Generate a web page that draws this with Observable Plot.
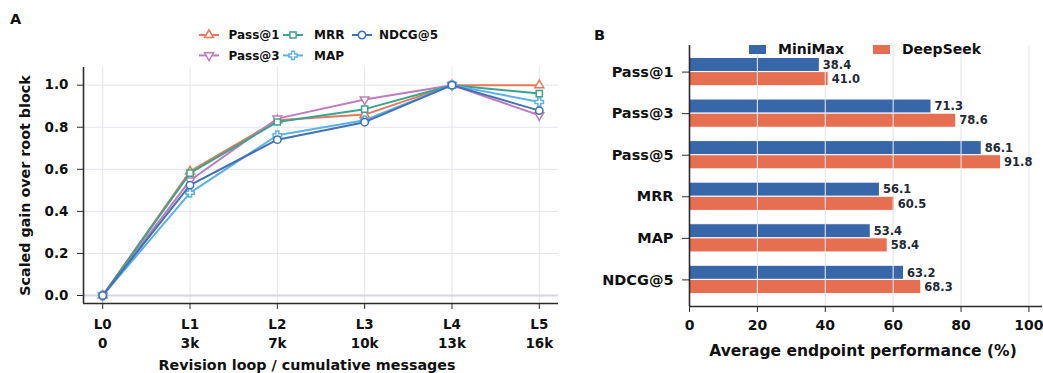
<!DOCTYPE html>
<html><head><meta charset="utf-8">
<script src="https://cdn.jsdelivr.net/npm/d3@7"></script>
<script src="https://cdn.jsdelivr.net/npm/@observablehq/plot@0.6"></script>
<style>
body{margin:0;background:#fff;}
#wrap{position:relative;width:1043px;height:373px;font-family:"DejaVu Sans",sans-serif;font-weight:bold;overflow:hidden;}
#wrap svg{position:absolute;top:0;}
</style></head><body><div id="wrap"></div>
<script>
// ---- Panel A data ----
const loops = ["L0","L1","L2","L3","L4","L5"];
const messages = ["0","3k","7k","10k","13k","16k"];
const seriesNames = ["Pass@1","Pass@3","MRR","MAP","NDCG@5"];
const pass1 = [0, 0.59, 0.833, 0.86, 1.0, 1.0];
const pass3 = [0, 0.547, 0.841, 0.932, 1.0, 0.857];
const mrr   = [0, 0.582, 0.825, 0.886, 1.0, 0.96];
const mapv  = [0, 0.488, 0.762, 0.833, 1.0, 0.92];
const ndcg5 = [0, 0.525, 0.741, 0.824, 1.0, 0.879];
const seriesColors = ["#E9785A","#C07BBF","#3BA38F","#5AB2E6","#4470B4"];
const yTicksA = [0, 0.2, 0.4, 0.6, 0.8, 1.0];

// ---- Panel B data ----
const metrics = ["Pass@1","Pass@3","Pass@5","MRR","MAP","NDCG@5"];
const minimax  = [38.4, 71.3, 86.1, 56.1, 53.4, 63.2];
const deepseek = [41.0, 78.6, 91.8, 60.5, 58.4, 68.3];
const models = ["MiniMax","DeepSeek"];
const modelColors = ["#3767A8","#E76F51"];
const xTicksB = [0, 20, 40, 60, 80, 100];

// ---- symbols ----
const s3 = Math.sqrt(3);
const triDown = {draw(ctx, size){ const y = -Math.sqrt(size/(s3*3)); ctx.moveTo(0,-2*y); ctx.lineTo(-s3*y, y); ctx.lineTo(s3*y, y); ctx.closePath(); }};
const plusFilled = {draw(ctx, size){ const h = Math.sqrt(size)*0.62, w = h*0.36;
  ctx.moveTo(-w,-h); ctx.lineTo(w,-h); ctx.lineTo(w,-w); ctx.lineTo(h,-w); ctx.lineTo(h,w); ctx.lineTo(w,w);
  ctx.lineTo(w,h); ctx.lineTo(-w,h); ctx.lineTo(-w,w); ctx.lineTo(-h,w); ctx.lineTo(-h,-w); ctx.lineTo(-w,-w); ctx.closePath(); }};
const seriesSymbols = [d3.symbolTriangle, triDown, d3.symbolSquare, plusFilled, d3.symbolCircle];
const seriesR = [3.3, 3.3, 3.5, 3.8, 3.7];
const seriesValues = [pass1, pass3, mrr, mapv, ndcg5];

const font = "DejaVu Sans";
const ink = "#111";
const spine = "#2b2b2b";
const gridC = "#e4e4ee";

// ---- Panel A ----
const seriesMarks = [];
seriesNames.forEach((name, s) => {
  const rows = seriesValues[s].map((v, i) => ({i, v, name}));
  seriesMarks.push(Plot.line(rows, {x: "i", y: "v", stroke: seriesColors[s], strokeWidth: 2}));
  seriesMarks.push(Plot.dot(rows, {x: "i", y: "v", stroke: seriesColors[s], fill: "white", strokeWidth: 1.5, r: seriesR[s], symbol: seriesSymbols[s]}));
});
const xdomA = [-0.22, 5.22], ydomA = [-0.038, 1.084];
const plotA = Plot.plot({
  width: 580, height: 373,
  marginLeft: 83, marginRight: 22, marginTop: 67, marginBottom: 70,
  style: {fontFamily: font, fontWeight: "bold", fontSize: "13.5px", color: ink, background: "transparent", overflow: "visible"},
  x: {domain: xdomA},
  y: {domain: ydomA},
  marks: [
    Plot.ruleY(yTicksA, {stroke: gridC, strokeWidth: 1}),
    Plot.ruleX(d3.range(loops.length), {stroke: gridC, strokeWidth: 1}),
    Plot.ruleY([0], {stroke: "#d6d6de", strokeWidth: 2.2}),
    Plot.ruleX([xdomA[0]], {stroke: spine, strokeWidth: 1.6}),
    Plot.ruleY([ydomA[0]], {stroke: spine, strokeWidth: 1.6}),
    Plot.axisY({ticks: yTicksA, tickFormat: d3.format(".1f"), tickSize: 6, tickPadding: 9, label: null, fontSize: 13.5, fontWeight: "bold", stroke: spine}),
    Plot.axisX({ticks: d3.range(loops.length), tickFormat: i => loops[i] + "\n" + messages[i], tickSize: 6, tickPadding: 7, lineHeight: 1.35, label: null, fontSize: 13.5, fontWeight: "bold", stroke: spine}),
    Plot.text(["Revision loop / cumulative messages"], {frameAnchor: "bottom", dx: -14, dy: 62, lineAnchor: "middle", textAnchor: "middle", fontSize: 14.3, fontWeight: "bold", fill: ink}),
    Plot.text(["Scaled gain over root block"], {frameAnchor: "left", dx: -58, rotate: -90, textAnchor: "middle", lineAnchor: "middle", fontSize: 14.3, fontWeight: "bold", fill: ink}),
    ...seriesMarks
  ]
});
plotA.style.left = "0px";

// ---- Panel B ----
const barRows = [];
metrics.forEach((m, i) => {
  barRows.push({i, model: models[0], value: minimax[i], lo: -0.34, hi: 0});
  barRows.push({i, model: models[1], value: deepseek[i], lo: 0, hi: 0.34});
});
const ydomB = [-0.64, 5.64];
const plotB = Plot.plot({
  width: 463, height: 373,
  marginLeft: 109, marginRight: 1, marginTop: 45, marginBottom: 67,
  style: {fontFamily: font, fontWeight: "bold", fontSize: "13.5px", color: ink, background: "transparent", overflow: "visible"},
  x: {domain: [0, 104]},
  y: {domain: ydomB, reverse: true},
  color: {domain: models, range: modelColors},
  marks: [
    Plot.rect(barRows, {x1: () => 0, x2: "value", y1: d => d.i + d.lo, y2: d => d.i + d.hi, fill: "model", stroke: "white", strokeWidth: 1}),
    Plot.ruleX(xTicksB.slice(1), {stroke: gridC, strokeWidth: 1.1}),
    Plot.text(barRows, {x: "value", y: d => d.i + (d.lo + d.hi) / 2, text: d => d3.format(".1f")(d.value), dx: 3, textAnchor: "start", fontSize: 11.5, fontWeight: "bold", fill: "#1f2937"}),
    Plot.ruleX([0], {stroke: spine, strokeWidth: 1.6}),
    Plot.ruleY([ydomB[1]], {stroke: spine, strokeWidth: 1.6}),
    Plot.axisY({ticks: d3.range(metrics.length), tickFormat: i => metrics[i], tickSize: 7, tickPadding: 9, label: null, fontSize: 14.5, fontWeight: "bold", stroke: spine}),
    Plot.axisX({ticks: xTicksB, tickFormat: d => String(d), tickSize: 6, tickPadding: 8, label: null, fontSize: 14, fontWeight: "bold", stroke: spine}),
    Plot.text(["Average endpoint performance (%)"], {frameAnchor: "bottom", dx: -3, dy: 45, lineAnchor: "middle", textAnchor: "middle", fontSize: 15.5, fontWeight: "bold", fill: ink})
  ]
});
plotB.style.left = "580px";

const wrap = document.getElementById("wrap");
wrap.appendChild(plotA);
wrap.appendChild(plotB);

// ---- overlay: panel letters and legends ----
const ov = d3.select(wrap).append("svg").attr("width", 1043).attr("height", 373).style("left", "0px")
  .attr("font-family", font).attr("font-weight", "bold");
ov.append("text").attr("x", 10).attr("y", 19).attr("dy", "0.36em").attr("font-size", 14.5).attr("fill", ink).text("A");
ov.append("text").attr("x", 594).attr("y", 34.5).attr("dy", "0.36em").attr("font-size", 14.5).attr("fill", ink).text("B");

// Legend A: 3 columns, column-major
const colLineX = [199, 283, 352];
const colTextX = [228.5, 314, 379];
const rowY = [35, 55.4];
seriesNames.forEach((name, s) => {
  const col = Math.floor(s / 2), row = s % 2;
  const g = ov.append("g");
  const x0 = colLineX[col], y0 = rowY[row];
  g.append("line").attr("x1", x0).attr("x2", x0 + 20).attr("y1", y0).attr("y2", y0).attr("stroke", seriesColors[s]).attr("stroke-width", 2);
  g.append("path").attr("d", d3.symbol(seriesSymbols[s], Math.PI * seriesR[s] * seriesR[s])()).attr("transform", `translate(${x0 + 10},${y0})`)
    .attr("fill", "white").attr("stroke", seriesColors[s]).attr("stroke-width", 1.5);
  g.append("text").attr("x", colTextX[col]).attr("y", y0).attr("dy", "0.36em").attr("font-size", 12).attr("fill", ink).text(name);
});

// Legend B
const legBRect = [749, 873];
models.forEach((m, k) => {
  ov.append("rect").attr("x", legBRect[k]).attr("y", 45).attr("width", 17).attr("height", 9).attr("fill", modelColors[k]);
  ov.append("text").attr("x", legBRect[k] + 29).attr("y", 49).attr("dy", "0.36em").attr("font-size", 14).attr("fill", ink).text(m);
});
</script></body></html>
